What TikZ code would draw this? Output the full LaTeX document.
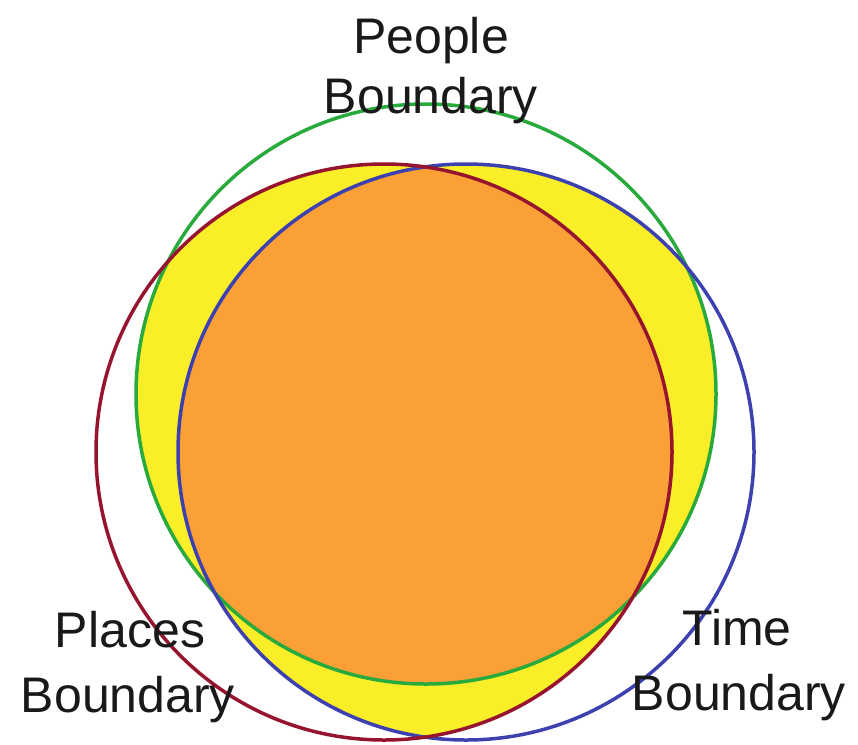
\documentclass[tikz,border=0pt]{standalone}
\usepackage{fontspec}
\setmainfont{Liberation Sans}
\definecolor{cgreen}{RGB}{40,170,60}
\definecolor{cred}{RGB}{150,20,45}
\definecolor{cblue}{RGB}{60,65,175}
\definecolor{cyellow}{RGB}{250,238,40}
\definecolor{corange}{RGB}{250,160,55}
\definecolor{ctext}{RGB}{25,25,25}
\tikzset{
  ring/.style={line width=3.5pt},
  lbl/.style={anchor=base, text=ctext, inner sep=0pt, font=\fontsize{50}{60}\selectfont}
}
\begin{document}
\begin{tikzpicture}[x=1pt,y=-1pt]
\useasboundingbox (0,0) rectangle (858,744);
\coordinate (G) at (426,394);
\coordinate (R) at (384,452);
\coordinate (B) at (466,452);
\def\rg{290pt}
\def\rr{288pt}
\def\rb{288pt}
% pairwise intersections (yellow)
\begin{scope}
  \clip (G) circle[radius=\rg];
  \fill[cyellow] (R) circle[radius=\rr];
  \fill[cyellow] (B) circle[radius=\rb];
\end{scope}
\begin{scope}
  \clip (R) circle[radius=\rr];
  \fill[cyellow] (B) circle[radius=\rb];
\end{scope}
% triple intersection (orange)
\begin{scope}
  \clip (G) circle[radius=\rg];
  \clip (R) circle[radius=\rr];
  \fill[corange] (B) circle[radius=\rb];
\end{scope}
% outlines
\draw[ring, cgreen] (G) circle[radius=\rg];
\draw[ring, cblue] (B) circle[radius=\rb];
\draw[ring, cred] (R) circle[radius=\rr];
% labels
\node[lbl] (peopleA) at (431,53) {People};
\node[lbl] (peopleB) at (431,113) {Boundary};
\node[lbl] (placesA) at (130,647) {Places};
\node[lbl] (placesB) at (128,712) {Boundary};
\node[lbl] (timeA) at (737,645) {Time};
\node[lbl] (timeB) at (739,710) {Boundary};
\end{tikzpicture}
\end{document}
